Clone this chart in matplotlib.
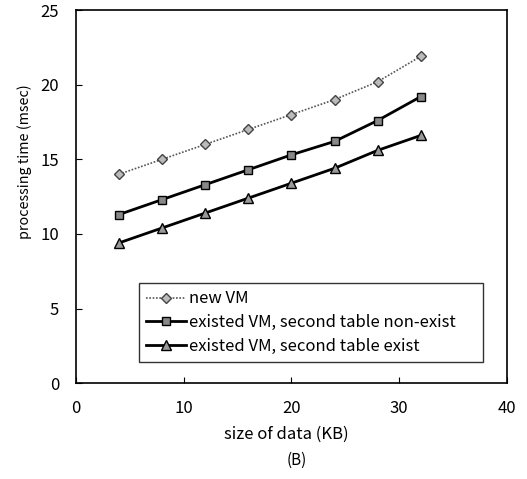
import matplotlib
matplotlib.use("Agg")
import matplotlib.pyplot as plt

sizes = [4, 8, 12, 16, 20, 24, 28, 32]
new_vm = [14.0, 15.0, 16.0, 17.0, 18.0, 19.0, 20.2, 21.9]
existed_nonexist = [11.3, 12.3, 13.3, 14.3, 15.3, 16.2, 17.6, 19.2]
existed_exist = [9.4, 10.4, 11.4, 12.4, 13.4, 14.4, 15.6, 16.6]
labels = ["new VM", "existed VM, second table non-exist", "existed VM, second table exist"]
xticks = [0, 10, 20, 30, 40]
yticks = [0, 5, 10, 15, 20, 25]

plt.rcParams['font.family'] = ['Noto Sans CJK JP', 'DejaVu Sans']
fig = plt.figure(figsize=(5.27, 4.79), dpi=100)
ax = fig.add_axes([0.144, 0.200, 0.818, 0.779])

ax.plot(sizes, new_vm, linestyle=(0, (1, 1)), color='#555555', lw=1.2,
        marker='D', markersize=5, markerfacecolor='#bbbbbb', markeredgecolor='#444444',
        label=labels[0])
ax.plot(sizes, existed_nonexist, linestyle='-', color='black', lw=2.0,
        marker='s', markersize=6, markerfacecolor='#888888', markeredgecolor='black',
        label=labels[1])
ax.plot(sizes, existed_exist, linestyle='-', color='black', lw=2.0,
        marker='^', markersize=7, markerfacecolor='#999999', markeredgecolor='black',
        label=labels[2])

ax.set_xlim(0, 40)
ax.set_ylim(0, 25)
ax.set_xticks(xticks)
ax.set_yticks(yticks)
ax.tick_params(direction='in', length=4, labelsize=12)
ax.tick_params(axis='x', pad=12)
ax.tick_params(axis='y', pad=12)
for s in ax.spines.values():
    s.set_linewidth(1.2)

ax.set_xlabel("size of data (KB)", fontsize=12, va='center')
ax.xaxis.set_label_coords(0.488, -0.137)
ax.set_ylabel("processing time (msec)", fontsize=10.3, va='center')
ax.yaxis.set_label_coords(-0.118, 0.595)

leg = ax.legend(loc='lower left', bbox_to_anchor=(0.146, 0.056, 0.798, 0.2), mode='expand',
                fontsize=12, frameon=True, fancybox=False, edgecolor='black',
                handlelength=2.4, handletextpad=0.15, borderpad=0.45, labelspacing=0.4,
                borderaxespad=0)
leg.get_frame().set_linewidth(1.0)

fig.text(0.563, 0.040, "(B)", ha='center', va='center', fontsize=11)

fig.savefig("out.png", dpi=100)
